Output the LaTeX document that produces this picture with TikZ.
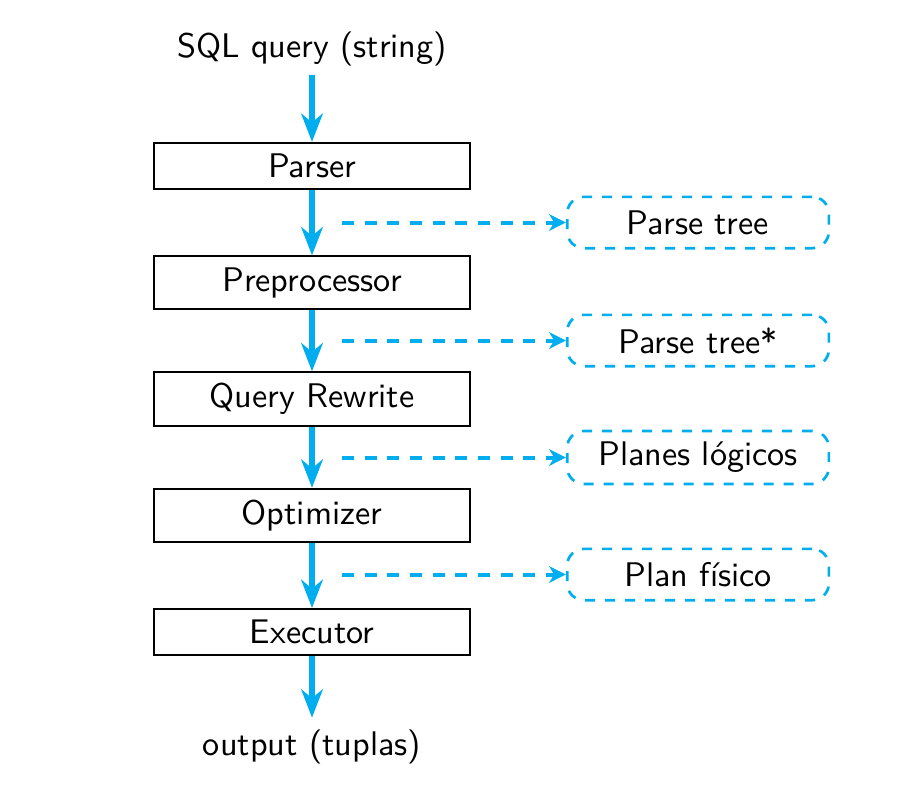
\documentclass[tikz,border=0pt]{standalone}
\usetikzlibrary{arrows.meta}
\definecolor{flowcyan}{RGB}{0,174,239}
\begin{document}
\begin{tikzpicture}[x=0.3pt,y=-0.3pt,font=\sffamily\fontsize{10.25}{12}\selectfont,
  stagebox/.style={draw=black,semithick,minimum width=95pt,inner sep=3.33pt},
  outbox/.style={draw=flowcyan,thick,dashed,rounded corners=5pt,minimum width=78.5pt,minimum height=15.4pt,inner sep=3.33pt},
  mainarrow/.style={draw=flowcyan,line width=1.6pt,-{Stealth[length=8.5pt,width=6.5pt,inset=2.7pt]}},
  sidearrow/.style={draw=flowcyan,line width=1.2pt,dash pattern=on 3.6pt off 3.2pt,-{Stealth[length=5pt,width=5pt,inset=1.5pt]}}]
\useasboundingbox (0,0) rectangle (921,799);
\node[anchor=base] (sql) at (312,57) {SQL query (string)};
\node[stagebox] (parser) at (312,166) {Parser};
\node[stagebox] (pre) at (312,282.6) {Preprocessor};
\node[stagebox] (rew) at (312,399.2) {Query Rewrite};
\node[stagebox] (opt) at (312,515.4) {Optimizer};
\node[stagebox] (exe) at (312,632.1) {Executor};
\node[anchor=base] (out) at (312,755) {output (tuplas)};
\node[outbox] (t1) at (698,222.5) {Parse tree};
\node[outbox] (t2) at (698,340.5) {Parse tree*};
\node[outbox] (t3) at (698,457.5) {Planes lógicos};
\node[outbox] (t4) at (698,574.5) {Plan físico};
\coordinate (d1) at (342,222.5);
\coordinate (d2) at (342,340.5);
\coordinate (d3) at (342,457.5);
\coordinate (d4) at (342,574.5);
\draw[mainarrow] (sql.south) ++(0,-2) -- (parser.north);
\draw[mainarrow] (parser) -- (pre);
\draw[mainarrow] (pre) -- (rew);
\draw[mainarrow] (rew) -- (opt);
\draw[mainarrow] (opt) -- (exe);
\draw[mainarrow] (exe) -- (out);
\draw[sidearrow] (d1) -- (t1.west);
\draw[sidearrow] (d2) -- (t2.west);
\draw[sidearrow] (d3) -- (t3.west);
\draw[sidearrow] (d4) -- (t4.west);
\end{tikzpicture}
\end{document}
